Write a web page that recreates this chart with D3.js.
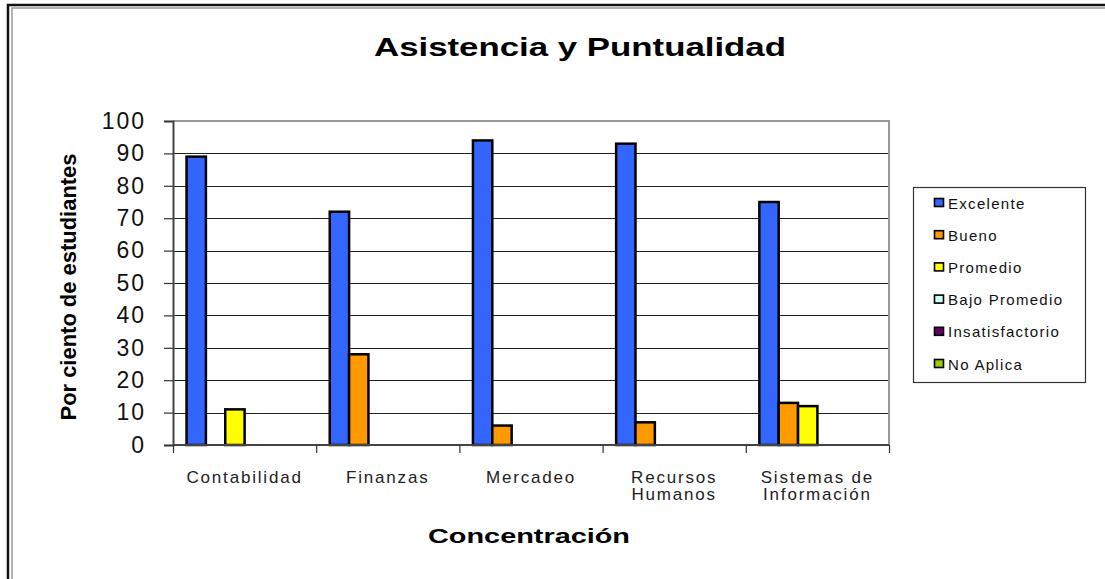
<!DOCTYPE html>
<html>
<head>
<meta charset="utf-8">
<script src="https://cdn.jsdelivr.net/npm/d3@7"></script>
<style>
  body { margin: 0; background: #fff; }
  text { font-family: Arial, "Liberation Sans", sans-serif; }
</style>
</head>
<body>
<div id="chart"></div>
<script>
var categories = ['Contabilidad', 'Finanzas', 'Mercadeo', 'Recursos Humanos', 'Sistemas de Información']
var series = ['Excelente', 'Bueno', 'Promedio', 'Bajo Promedio', 'Insatisfactorio', 'No Aplica']
var colors = ['#3366ff', '#ff9900', '#ffff00', '#ccffff', '#660066', '#99cc00']
var excelente = [89, 72, 94, 93, 75]
var bueno = [0, 28, 6, 7, 13]
var promedio = [11, 0, 0, 0, 12]
var bajo_promedio = [0, 0, 0, 0, 0]
var insatisfactorio = [0, 0, 0, 0, 0]
var no_aplica = [0, 0, 0, 0, 0]
var y_ticks = [0, 10, 20, 30, 40, 50, 60, 70, 80, 90, 100]

var values = [excelente, bueno, promedio, bajo_promedio, insatisfactorio, no_aplica]

var chart_width = 1105
var chart_height = 579

var svg = d3.select('#chart')
    .append('svg')
    .attr('width', chart_width)
    .attr('height', chart_height)

// outer frame
svg.append('path')
    .attr('d', 'M8,' + chart_height + 'V5H' + chart_width)
    .attr('fill', 'none')
    .attr('stroke', '#111')
    .attr('stroke-width', 2.5)
svg.append('path')
    .attr('d', 'M12,' + chart_height + 'V8H' + chart_width)
    .attr('fill', 'none')
    .attr('stroke', '#999')
    .attr('stroke-width', 1.5)

var plot = { left: 173, right: 889, top: 121, bottom: 445 }

var x_scale = d3.scaleBand()
    .domain(categories)
    .range([plot.left, plot.right])

var x_inner = d3.scaleBand()
    .domain(series)
    .range([0, x_scale.bandwidth()])
    .paddingOuter(0.7)

var y_scale = d3.scaleLinear()
    .domain([0, 100])
    .range([plot.bottom, plot.top])

// gridlines
svg.append('g')
    .selectAll('line')
    .data(y_ticks.slice(1, -1))
    .enter()
    .append('line')
    .attr('x1', plot.left)
    .attr('x2', plot.right)
    .attr('y1', function (d) { return Math.round(y_scale(d)) + 0.5 })
    .attr('y2', function (d) { return Math.round(y_scale(d)) + 0.5 })
    .attr('stroke', '#222')
    .attr('stroke-width', 1.2)

// plot border top/right
svg.append('path')
    .attr('d', 'M' + plot.left + ',' + plot.top + 'H' + plot.right + 'V' + plot.bottom)
    .attr('fill', 'none')
    .attr('stroke', '#999')
    .attr('stroke-width', 2)

// bars
var groups = svg.append('g')
    .selectAll('g')
    .data(values)
    .enter()
    .append('g')
    .attr('fill', function (d, i) { return colors[i] })

groups.selectAll('rect')
    .data(function (d, i) {
        return d.map(function (v, j) { return { s: series[i], c: categories[j], v: v } })
    })
    .enter()
    .filter(function (d) { return d.v > 0 })
    .append('rect')
    .attr('x', function (d) { return x_scale(d.c) + x_inner(d.s) })
    .attr('y', function (d) { return y_scale(d.v) })
    .attr('width', x_inner.bandwidth())
    .attr('height', function (d) { return y_scale(0) - y_scale(d.v) })
    .attr('stroke', '#000')
    .attr('stroke-width', 2.5)

// y axis
var y_axis = d3.axisLeft(y_scale)
    .tickValues(y_ticks)
    .tickSize(9)
    .tickPadding(18)

svg.append('g')
    .attr('transform', 'translate(' + plot.left + ',0)')
    .call(y_axis)
    .call(function (g) {
        g.select('.domain').attr('stroke', '#444').attr('stroke-width', 2)
        g.selectAll('.tick line').attr('stroke', '#333').attr('stroke-width', 1.2)
        g.selectAll('text')
            .attr('font-size', 23)
            .attr('letter-spacing', 2)
            .attr('fill', '#111')
            .attr('font-family', 'Arial, "Liberation Sans", sans-serif')
    })

// x axis
var x_axis = d3.axisBottom(d3.scaleLinear().domain([0, 5]).range([plot.left, plot.right]))
    .tickValues([0, 1, 2, 3, 4, 5])
    .tickSize(8)
    .tickFormat('')

svg.append('g')
    .attr('transform', 'translate(0,' + plot.bottom + ')')
    .call(x_axis)
    .call(function (g) {
        g.select('.domain').attr('stroke', '#444').attr('stroke-width', 2).attr('d', 'M' + plot.left + ',0H' + plot.right)
        g.selectAll('.tick line').attr('stroke', '#333').attr('stroke-width', 1.2)
    })

// category labels
var label_lines = {
    'Recursos Humanos': ['Recursos', 'Humanos'],
    'Sistemas de Información': ['Sistemas de', 'Información']
}
svg.append('g')
    .selectAll('text')
    .data(categories)
    .enter()
    .append('text')
    .attr('x', function (d) { return x_scale(d) + x_scale.bandwidth() / 2 })
    .attr('y', 483)
    .attr('text-anchor', 'middle')
    .attr('font-size', 17)
    .attr('letter-spacing', 1.8)
    .attr('fill', '#222')
    .each(function (d) {
        var lines = label_lines[d] || [d]
        var t = d3.select(this)
        lines.forEach(function (l, i) {
            t.append('tspan')
                .attr('x', x_scale(d) + x_scale.bandwidth() / 2)
                .attr('dy', i === 0 ? 0 : 17)
                .text(l)
        })
    })

// titles
svg.append('text')
    .text('Asistencia y Puntualidad')
    .attr('x', 580)
    .attr('y', 56)
    .attr('text-anchor', 'middle')
    .attr('font-size', 25)
    .attr('font-weight', 'bold')
    .attr('textLength', 412)
    .attr('lengthAdjust', 'spacingAndGlyphs')

svg.append('text')
    .text('Concentración')
    .attr('x', 529)
    .attr('y', 543)
    .attr('text-anchor', 'middle')
    .attr('font-size', 21)
    .attr('font-weight', 'bold')
    .attr('textLength', 202)
    .attr('lengthAdjust', 'spacingAndGlyphs')

svg.append('text')
    .text('Por ciento de estudiantes')
    .attr('transform', 'translate(76,287) rotate(-90)')
    .attr('text-anchor', 'middle')
    .attr('font-size', 22)
    .attr('font-weight', 'bold')
    .attr('textLength', 267)
    .attr('lengthAdjust', 'spacingAndGlyphs')

// legend
var legend = svg.append('g')
legend.append('rect')
    .attr('x', 913.5)
    .attr('y', 187.5)
    .attr('width', 172)
    .attr('height', 195)
    .attr('fill', '#fff')
    .attr('stroke', '#333')
    .attr('stroke-width', 1.2)

var items = legend.selectAll('g.item')
    .data(series)
    .enter()
    .append('g')
    .attr('class', 'item')
    .attr('transform', function (d, i) { return 'translate(934,' + (203 + i * 32.2) + ')' })

items.append('rect')
    .attr('x', 0.5)
    .attr('y', -4.5)
    .attr('width', 9)
    .attr('height', 8)
    .attr('fill', function (d, i) { return colors[i] })
    .attr('stroke', '#000')
    .attr('stroke-width', 1.6)

items.append('text')
    .text(function (d) { return d })
    .attr('x', 14)
    .attr('y', 5.5)
    .attr('font-size', 15)
    .attr('letter-spacing', 1.3)
    .attr('fill', '#111')
</script>
</body>
</html>
